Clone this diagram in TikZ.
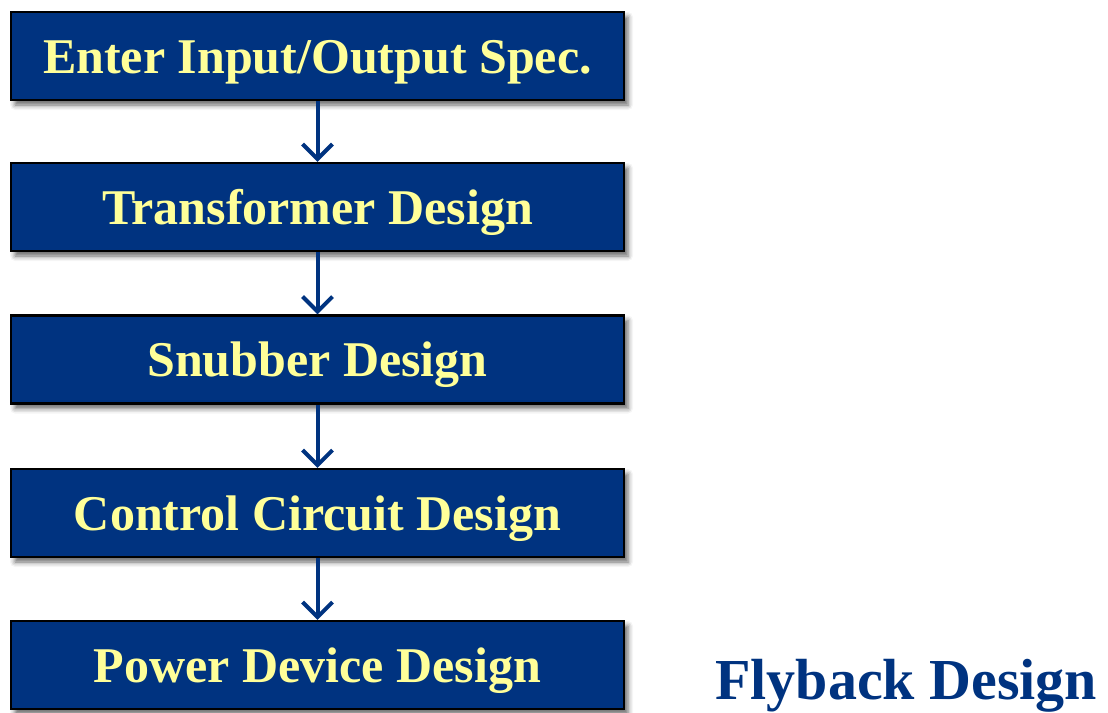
\documentclass[tikz,border=0pt]{standalone}
\usepackage{fontspec}
\setmainfont{Liberation Serif}
\usetikzlibrary{shadows.blur,arrows.meta}
\definecolor{navy}{RGB}{0,51,128}
\definecolor{pale}{RGB}{255,255,153}
\begin{document}
\begin{tikzpicture}[x=1pt,y=-1pt,
  stepbox/.style={draw=black, line width=2.2pt, fill=navy, minimum width=613pt, minimum height=88pt,
     inner sep=0pt, text=pale, font=\fontsize{50}{50}\selectfont\bfseries, text height=34pt, text depth=0pt,
     blur shadow={shadow xshift=4pt, shadow yshift=-5pt, shadow blur radius=5pt, shadow opacity=60}},
  flow/.style={draw=navy, line width=4pt, -{Straight Barb[length=15pt,width=30pt,line width=4pt]}}]
\useasboundingbox (0,0) rectangle (1108,712);
\node[stepbox] (a) at (317.5,56) {Enter Input/Output Spec.};
\node[stepbox] (b) at (317.5,207) {Transformer Design};
\node[stepbox] (c) at (317.5,359.5) {Snubber Design};
\node[stepbox] (d) at (317.5,513) {Control Circuit Design};
\node[stepbox] (e) at (317.5,665) {Power Device Design};
\foreach \u/\v in {a/b,b/c,c/d,d/e}
  \draw[flow] (\u.south) -- (\v.north);
\node[anchor=base west, inner sep=0pt, text=navy, font=\fontsize{58}{58}\selectfont\bfseries] (t) at (715,699) {Flyback Design};
\end{tikzpicture}
\end{document}
